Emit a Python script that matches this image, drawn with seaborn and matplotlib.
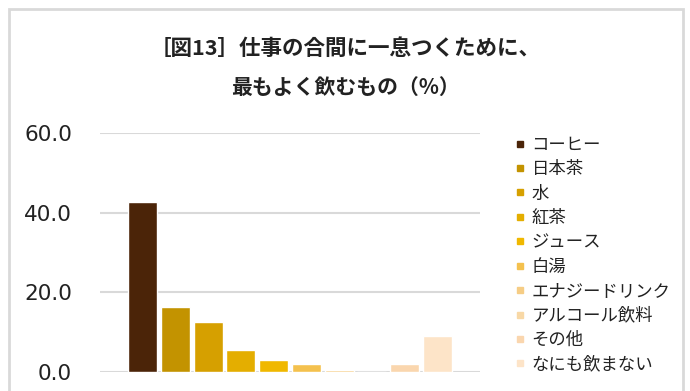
import matplotlib
matplotlib.use("Agg")
import matplotlib.pyplot as plt
import seaborn as sns
import pandas as pd
from matplotlib.lines import Line2D
from matplotlib.patches import Rectangle

# データ
labels = ["コーヒー", "日本茶", "水", "紅茶", "ジュース", "白湯",
          "エナジードリンク", "アルコール飲料", "その他", "なにも飲まない"]
values = [42.8, 16.2, 12.6, 5.5, 3.0, 1.9, 0.5, 0.0, 1.9, 9.0]
colors = ["#4B2408", "#C39300", "#D6A000", "#E4AE00", "#F0B800", "#F4C14E",
          "#F6CD85", "#F8D8A6", "#FAD6AE", "#FDE4C8"]
yticks = [0, 20, 40, 60]

sns.set_theme(style="white")
plt.rcParams['font.family'] = ['Noto Sans CJK JP', 'DejaVu Sans']

df = pd.DataFrame({"飲み物": labels, "割合": values})

fig = plt.figure(figsize=(6.9, 3.91), dpi=100)
ax = fig.add_axes([100/690, 19/391, 380/690, 239/391])

sns.barplot(data=df, x="飲み物", y="割合", hue="飲み物", palette=colors,
            width=0.89, legend=False, ax=ax, saturation=1)

ax.set_xlim(-0.5 - 0.81, 9.5 + 0.81)
ax.set_ylim(0, 60)
ax.set_yticks(yticks)
ax.set_yticklabels([f"{v:.1f}" for v in yticks], fontsize=15.5,
                   family=['DejaVu Sans'], color="#222222")
ax.tick_params(axis='y', length=0, pad=20)
ax.set_xticks([])
ax.set_xlabel("")
ax.set_ylabel("")
ax.grid(axis='y', color="#D9D9D9", linewidth=1.5)
ax.set_axisbelow(True)
for s in ax.spines.values():
    s.set_visible(False)

# タイトル
fig.text(0.5, 1 - 48/391, "［図13］仕事の合間に一息つくために、", ha='center', va='center',
         fontsize=15.5, fontweight='bold', color="#222222")
fig.text(0.5, 1 - 87/391, "最もよく飲むもの（%）", ha='center', va='center',
         fontsize=15, fontweight='bold', color="#222222")

# 凡例
handles = [Line2D([], [], marker='s', ls='', color=c, markersize=4.5) for c in colors]
fig.legend(handles, labels, loc='upper left', bbox_to_anchor=(503/690, 1 - 127/391),
           frameon=False, fontsize=12.5, labelspacing=0.37, handletextpad=0.15,
           handlelength=1.0, borderpad=0, labelcolor="#222222")

# 外枠
fig.patches.append(Rectangle((9/690, -0.1), (683 - 9)/690, 1.1 - 9/391,
                             transform=fig.transFigure, fill=False,
                             edgecolor="#D9D9D9", linewidth=2))

fig.savefig("out.png", dpi=100)
